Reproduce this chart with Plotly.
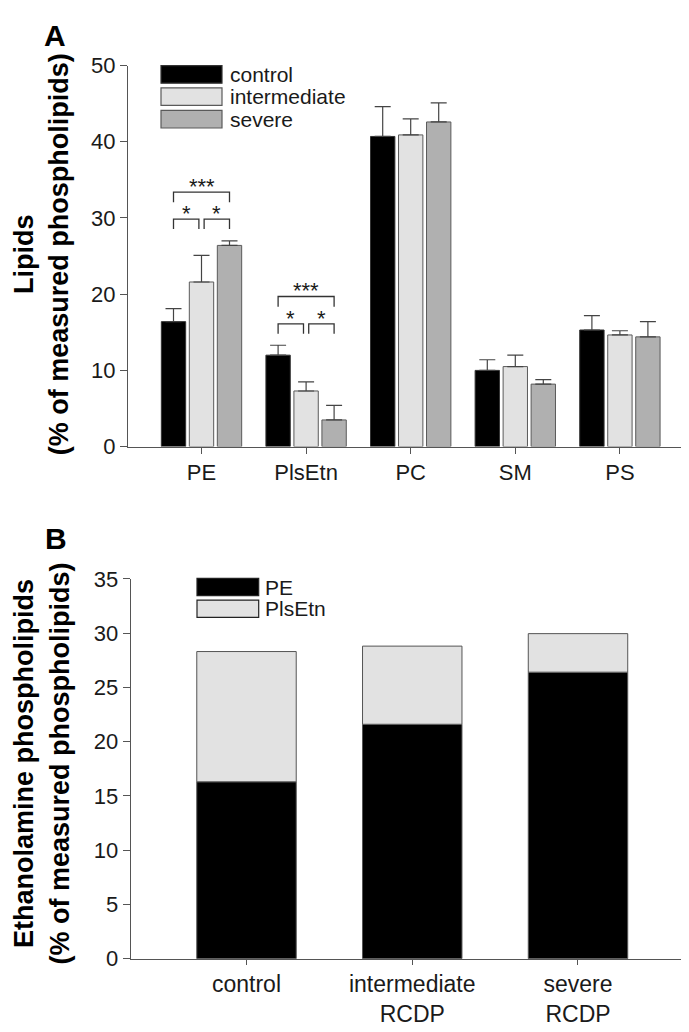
import plotly.graph_objects as go

# ---------------- data ----------------
lipid_classes = ["PE", "PlsEtn", "PC", "SM", "PS"]
groups = ["control", "intermediate", "severe"]
control_mean = [16.4, 12.0, 40.7, 10.0, 15.3]
control_err = [1.7, 1.3, 3.9, 1.4, 1.9]
intermediate_mean = [21.6, 7.3, 40.9, 10.5, 14.65]
intermediate_err = [3.5, 1.2, 2.1, 1.5, 0.55]
severe_mean = [26.4, 3.5, 42.6, 8.2, 14.4]
severe_err = [0.6, 1.9, 2.5, 0.6, 2.0]

# significance brackets: (class index, level of *** bracket, level of * brackets)
sig_classes = [0, 1]
sig_outer_level = [33.4, 19.7]
sig_inner_level = [29.85, 16.1]

b_categories = ["control", "intermediate<br>RCDP", "severe<br>RCDP"]
b_series = ["PE", "PlsEtn"]
b_pe = [16.3, 21.6, 26.4]
b_plsetn = [12.0, 7.2, 3.55]

a_yticks = [0, 10, 20, 30, 40, 50]
b_yticks = [0, 5, 10, 15, 20, 25, 30, 35]

# ---------------- styling ----------------
FONT = "Liberation Sans, Arial, sans-serif"
W, H = 689, 1032
colors = {"control": "#000000", "intermediate": "#e2e2e2", "severe": "#b0b0b0"}
outline = {"control": "#333333", "intermediate": "#5a5a5a", "severe": "#5a5a5a"}
AXC = "#555555"
TXT = "#1a1a1a"


def px(x):
    return x / W


def py(y):
    return 1 - y / H


fig = go.Figure()

means = [control_mean, intermediate_mean, severe_mean]
errs = [control_err, intermediate_err, severe_err]
xs = list(range(len(lipid_classes)))
for g, m, e in zip(groups, means, errs):
    fig.add_trace(go.Bar(
        x=xs, y=m, name=g, xaxis="x", yaxis="y", showlegend=False,
        marker=dict(color=colors[g], line=dict(color=outline[g], width=1)),
        error_y=dict(type="data", symmetric=False, array=e, arrayminus=[0] * len(e),
                     color="#444444", thickness=1.2, width=8),
    ))

bx = list(range(len(b_categories)))
fig.add_trace(go.Bar(
    x=bx, y=b_pe, name=b_series[0], xaxis="x2", yaxis="y2", showlegend=False,
    width=0.6, offset=-0.3,
    marker=dict(color="#000000", line=dict(color="#555555", width=1)),
))
fig.add_trace(go.Bar(
    x=bx, y=b_plsetn, base=b_pe, name=b_series[1], xaxis="x2", yaxis="y2", showlegend=False,
    width=0.6, offset=-0.3,
    marker=dict(color="#e2e2e2", line=dict(color="#555555", width=1)),
))

# ---------------- layout ----------------
slot = 28 / 104.6
shapes = []
annotations = []

# significance brackets (data coords of panel A)
for ci, lo, li in zip(sig_classes, sig_outer_level, sig_inner_level):
    c0, c2 = ci - slot, ci + slot
    leg_o, leg_i = 1.35, 1.3
    segs = [(c0, c2, lo, leg_o), (c0, ci - 0.025, li, leg_i), (ci + 0.025, c2, li, leg_i)]
    for (xa, xb, yl, lg) in segs:
        shapes.append(dict(type="path", xref="x", yref="y",
                           path=f"M {xa},{yl - lg} L {xa},{yl} L {xb},{yl} L {xb},{yl - lg}",
                           line=dict(color="#333333", width=1.3)))
    for (xa, xb, yl, lg), star in zip(segs, ["***", "*", "*"]):
        annotations.append(dict(x=(xa + xb) / 2, y=yl, xref="x", yref="y", text=star,
                                showarrow=False, yanchor="bottom", yshift=-9,
                                font=dict(family=FONT, size=22, color=TXT)))

# legend panel A (drawn boxes)
leg_tops = [46.7, 69.5, 92.7]
for g, t in zip(groups, leg_tops):
    shapes.append(dict(type="rect", xref="paper", yref="paper",
                       x0=px(153), x1=px(214), y0=py(t + 18), y1=py(t),
                       fillcolor=colors[g], line=dict(color=outline[g], width=1.2)))
    annotations.append(dict(x=px(220), y=py(t + 9), xref="paper", yref="paper", text=g,
                            showarrow=False, xanchor="left", yanchor="middle",
                            font=dict(family=FONT, size=21, color=TXT)))

# legend panel B
b_leg_tops = [572.3, 594.5]
b_leg_cols = ["#000000", "#e2e2e2"]
for s, t, c in zip(b_series, b_leg_tops, b_leg_cols):
    shapes.append(dict(type="rect", xref="paper", yref="paper",
                       x0=px(189), x1=px(250.7), y0=py(t + 17.7), y1=py(t),
                       fillcolor=c, line=dict(color="#222222", width=1.2)))
    annotations.append(dict(x=px(255), y=py(t + 9), xref="paper", yref="paper", text=s,
                            showarrow=False, xanchor="left", yanchor="middle",
                            font=dict(family=FONT, size=21, color=TXT)))

# panel letters
annotations.append(dict(x=px(34), y=py(16), xref="paper", yref="paper", text="<b>A</b>",
                        showarrow=False, xanchor="left", yanchor="middle",
                        font=dict(family=FONT, size=30, color="#000")))
annotations.append(dict(x=px(35), y=py(531), xref="paper", yref="paper", text="<b>B</b>",
                        showarrow=False, xanchor="left", yanchor="middle",
                        font=dict(family=FONT, size=30, color="#000")))

# y titles
annotations.append(dict(x=px(33), y=py(240), xref="paper", yref="paper",
                        text="<b>Lipids</b><br><b>(% of measured phospholipids)</b>",
                        textangle=-90, showarrow=False, xanchor="center", yanchor="middle",
                        font=dict(family=FONT, size=27, color="#000")))
annotations.append(dict(x=px(34), y=py(762), xref="paper", yref="paper",
                        text="<b>Ethanolamine phospholipids</b><br><b>(% of measured phospholipids)</b>",
                        textangle=-90, showarrow=False, xanchor="center", yanchor="middle",
                        font=dict(family=FONT, size=27, color="#000")))

axis_common = dict(showline=True, linecolor=AXC, linewidth=1, showgrid=False, zeroline=False,
                   ticks="outside", tickcolor=AXC, tickwidth=1,
                   tickfont=dict(family=FONT, size=22, color=TXT))

fig.update_layout(
    width=W, height=H, autosize=False,
    margin=dict(l=0, r=0, t=0, b=0),
    paper_bgcolor="white", plot_bgcolor="white",
    barmode="group", bargap=0.197, bargroupgap=0.13,
    xaxis=dict(domain=[px(120), px(687)], range=[-0.7027, 4.718], anchor="y",
               tickmode="array", tickvals=xs, ticktext=lipid_classes, ticklen=6,
               **axis_common),
    yaxis=dict(domain=[py(437.2), py(46.7)], range=[0, 50], anchor="x",
               tickmode="array", tickvals=a_yticks, ticklen=7, **axis_common),
    xaxis2=dict(domain=[px(122.7), 1.0], range=[-0.6986, 2.718], anchor="y2",
                tickmode="array", tickvals=bx, ticktext=b_categories, ticklen=5,
                **{**axis_common, "tickfont": dict(family=FONT, size=23, color=TXT)}),
    yaxis2=dict(domain=[py(962), py(572.7)], range=[0, 35], anchor="x2",
                tickmode="array", tickvals=b_yticks, ticklen=7, **axis_common),
    shapes=shapes, annotations=annotations,
)

fig.write_html("out.html")
